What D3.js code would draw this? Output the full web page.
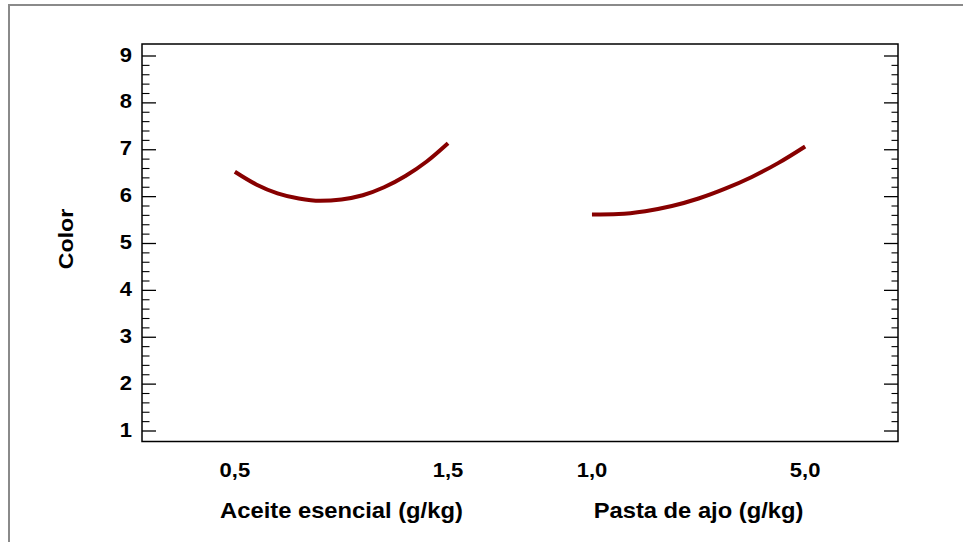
<html lang="es">
<head>
    <meta charset="UTF-8">
    <title>Color</title>
    <style>
        body { margin: 0; background: #fff; }
        text { font-family: "Liberation Sans", Arial, sans-serif; font-weight: bold; fill: #000; }
        .curve { fill: none; stroke: #870000; stroke-width: 4px; stroke-linejoin: round; }
    </style>
</head>
<body>

    <svg width="963" height="542"></svg>

    <script src="https://d3js.org/d3.v7.min.js" charset="utf-8"></script>
    <script>
        (function() {
            'use strict';

            var WIDTH = 963;
            var HEIGHT = 542;

            var LEFT = 142, RIGHT = 898, TOP = 44, BOTTOM = 441.5;
            var STRETCH = 1.1; // the original type is a little wider than Arial

            // data
            var factors = ["Aceite esencial (g/kg)", "Pasta de ajo (g/kg)"];

            var aceiteLevels = [0.5, 0.6, 0.7, 0.8, 0.9, 1.0, 1.1, 1.2, 1.3, 1.4, 1.5];
            var aceiteColor  = [6.53, 6.26, 6.07, 5.96, 5.91, 5.94, 6.03, 6.20, 6.44, 6.75, 7.14];
            var aceiteTicks  = ["0,5", "1,5"];

            var ajoLevels = [1.0, 1.5, 2.0, 2.5, 3.0, 3.5, 4.0, 4.5, 5.0];
            var ajoColor  = [5.62, 5.63, 5.69, 5.80, 5.96, 6.17, 6.42, 6.72, 7.07];
            var ajoTicks  = ["1,0", "5,0"];

            var yTicks = [1, 2, 3, 4, 5, 6, 7, 8, 9];
            var yLabel = "Color";

            var series = [
                { factor: factors[0], levels: aceiteLevels, values: aceiteColor, ticks: aceiteTicks },
                { factor: factors[1], levels: ajoLevels, values: ajoColor, ticks: ajoTicks }
            ];

            var svg = d3.select("svg");

            // outer frame
            svg.append("rect")
                .attr("x", 9)
                .attr("y", 5)
                .attr("width", WIDTH)
                .attr("height", HEIGHT)
                .attr("fill", "none")
                .attr("stroke", "#8a8a8a")
                .attr("stroke-width", 2);

            var y = d3.scaleLinear()
                .domain([0.776, 9.256])
                .range([BOTTOM, TOP]);

            var band = d3.scaleBand()
                .domain(factors)
                .range([LEFT, RIGHT])
                .paddingInner(0.403)
                .paddingOuter(0.26);

            // left and right axes, ticks pointing inward
            var minor = d3.range(1, 9.01, 0.2).filter(function(v) {
                return Math.abs(v - Math.round(v)) > 0.01;
            });

            var leftAxis = svg.append("g").attr("transform", "translate(" + LEFT + ",0)");
            leftAxis.selectAll(".major")
                .data(yTicks).enter().append("line")
                .attr("x1", 0).attr("x2", 14)
                .attr("y1", function(d) { return y(d); })
                .attr("y2", function(d) { return y(d); })
                .attr("stroke", "#000").attr("stroke-width", 1.3);
            leftAxis.selectAll(".minor")
                .data(minor).enter().append("line")
                .attr("x1", 0).attr("x2", 7.5)
                .attr("y1", function(d) { return y(d); })
                .attr("y2", function(d) { return y(d); })
                .attr("stroke", "#000").attr("stroke-width", 1.1);

            var rightAxis = svg.append("g").attr("transform", "translate(" + RIGHT + ",0)");
            rightAxis.selectAll(".major")
                .data(yTicks).enter().append("line")
                .attr("x1", 0).attr("x2", -14)
                .attr("y1", function(d) { return y(d); })
                .attr("y2", function(d) { return y(d); })
                .attr("stroke", "#000").attr("stroke-width", 1.3);
            rightAxis.selectAll(".minor")
                .data(minor).enter().append("line")
                .attr("x1", 0).attr("x2", -6.5)
                .attr("y1", function(d) { return y(d); })
                .attr("y2", function(d) { return y(d); })
                .attr("stroke", "#000").attr("stroke-width", 1.1);

            // plot frame
            svg.append("rect")
                .attr("x", LEFT)
                .attr("y", TOP)
                .attr("width", RIGHT - LEFT)
                .attr("height", BOTTOM - TOP)
                .attr("fill", "none")
                .attr("stroke", "#000")
                .attr("stroke-width", 1.5);

            // y tick labels
            svg.selectAll(".ylab")
                .data(yTicks).enter().append("g")
                .attr("transform", function(d) { return "translate(132," + (y(d) + 5.5) + ") scale(" + STRETCH + ",1)"; })
                .append("text")
                .attr("text-anchor", "end")
                .attr("font-size", 20)
                .text(function(d) { return d; });

            // y title
            svg.append("g")
                .attr("transform", "translate(73,239) rotate(-90) scale(" + STRETCH + ",1)")
                .append("text")
                .attr("text-anchor", "middle")
                .attr("font-size", 21)
                .text(yLabel);

            // one main-effect curve per factor
            series.forEach(function(s) {
                var x = d3.scaleLinear()
                    .domain(d3.extent(s.levels))
                    .range([band(s.factor), band(s.factor) + band.bandwidth()]);

                var line = d3.line()
                    .x(function(d, i) { return x(s.levels[i]); })
                    .y(function(d) { return y(d); })
                    .curve(d3.curveMonotoneX);

                svg.append("path")
                    .datum(s.values)
                    .attr("class", "curve")
                    .attr("d", line);

                var ends = d3.extent(s.levels);
                svg.selectAll(null)
                    .data(s.ticks).enter().append("g")
                    .attr("transform", function(d, i) { return "translate(" + x(ends[i]) + ",477) scale(" + STRETCH + ",1)"; })
                    .append("text")
                    .attr("text-anchor", "middle")
                    .attr("font-size", 20)
                    .text(function(d) { return d; });

                svg.append("g")
                    .attr("transform", "translate(" + (band(s.factor) + band.bandwidth() / 2) + ",518) scale(1.08,1)")
                    .append("text")
                    .attr("text-anchor", "middle")
                    .attr("font-size", 22)
                    .text(s.factor);
            });
        })();
    </script>
</body>
</html>
